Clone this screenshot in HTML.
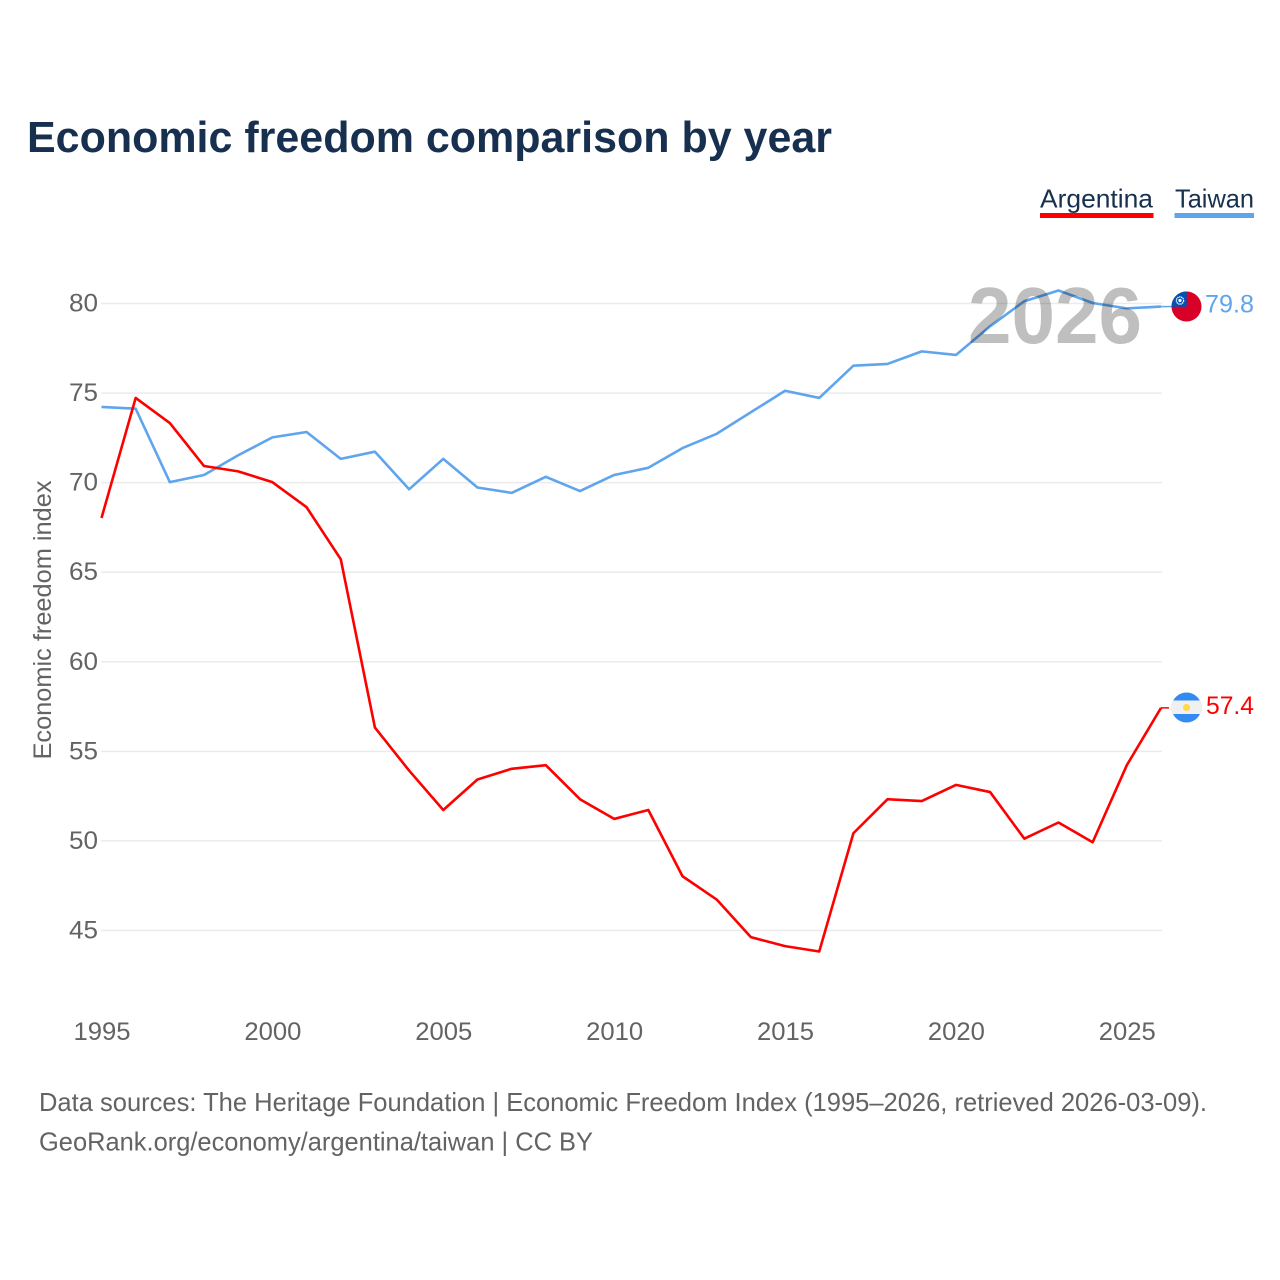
<!DOCTYPE html>
<html lang="en">
<head>
<meta charset="utf-8">
<title>Economic freedom comparison by year</title>
<style>
html,body{margin:0;padding:0;background:#fff;width:1280px;height:1280px;overflow:hidden}
svg{display:block}
text{font-family:"Liberation Sans",sans-serif}
</style>
</head>
<body>
<svg id="chart" width="1280" height="1280" viewBox="0 0 1280 1280" xmlns="http://www.w3.org/2000/svg">
  <defs>
    <clipPath id="clip-tw"><circle id="tw-clip-circle" cx="1186.5" cy="306.5" r="15"></circle></clipPath>
    <clipPath id="clip-ar"><circle id="ar-clip-circle" cx="1186.5" cy="707.5" r="15"></circle></clipPath>
  </defs>
  <rect width="1280" height="1280" fill="#fff"></rect>
  <text x="27" y="152" font-size="44" font-weight="700" fill="#18304f" textLength="805" lengthAdjust="spacingAndGlyphs">Economic freedom comparison by year</text>

  <g>
    <g>
      <text x="1040" y="207.5" font-size="26" fill="#18304f" textLength="113" lengthAdjust="spacingAndGlyphs">Argentina</text>
      <rect x="1040" y="213" width="113.5" height="5" fill="#ff0000"></rect>
    </g>
    <g>
      <text x="1175" y="207.5" font-size="26" fill="#18304f" textLength="79" lengthAdjust="spacingAndGlyphs">Taiwan</text>
      <rect x="1174.5" y="213" width="79.5" height="5" fill="#5fa5ee"></rect>
    </g>
  </g>

  <g id="grid"></g>
  <g id="y-ticks"></g>
  <g id="x-ticks"></g>
  <text transform="translate(51,620) rotate(-90)" text-anchor="middle" font-size="25" fill="#636363" textLength="279" lengthAdjust="spacingAndGlyphs">Economic freedom index</text>

  <g id="series" transform="translate(0,-0.5)"></g>

  <text x="968" y="343" font-size="80" font-weight="700" fill="#000" fill-opacity="0.25" textLength="174" lengthAdjust="spacingAndGlyphs">2026</text>

  <g id="flag-tw">
    <g clip-path="url(#clip-tw)">
      <rect x="1170" y="290" width="34" height="34" fill="#d80027"></rect>
      <rect x="1170" y="290" width="16.7" height="16.7" fill="#0052b4"></rect>
      <circle cx="1180" cy="300.5" r="3.6" fill="none" stroke="#fff" stroke-width="1.3" stroke-dasharray="1.4 0.6"></circle>
      <circle cx="1180" cy="300.5" r="1.6" fill="#fff"></circle>
    </g>
  </g>
  <g id="flag-ar">
    <g clip-path="url(#clip-ar)">
      <rect x="1170" y="690" width="34" height="34" fill="#338af3"></rect>
      <rect x="1170" y="700.5" width="34" height="13.5" fill="#f0f0f0"></rect>
      <circle cx="1186.5" cy="707.5" r="3.6" fill="#ffda44"></circle>
    </g>
  </g>
  <text id="end-tw" x="1254" y="312.5" text-anchor="end" font-size="25" fill="#5fa5ee" textLength="49" lengthAdjust="spacingAndGlyphs"></text>
  <text id="end-ar" x="1254" y="714" text-anchor="end" font-size="25" fill="#ff0000" textLength="48" lengthAdjust="spacingAndGlyphs"></text>

  <text x="39" y="1111" font-size="26" fill="#636363" textLength="1168" lengthAdjust="spacingAndGlyphs">Data sources: The Heritage Foundation | Economic Freedom Index (1995–2026, retrieved 2026-03-09).</text>
  <text x="39" y="1150.5" font-size="26" fill="#636363" textLength="554" lengthAdjust="spacingAndGlyphs">GeoRank.org/economy/argentina/taiwan | CC BY</text>
</svg>

<script>
const years = [1995,1996,1997,1998,1999,2000,2001,2002,2003,2004,2005,2006,2007,2008,2009,2010,2011,2012,2013,2014,2015,2016,2017,2018,2019,2020,2021,2022,2023,2024,2025,2026];
const argentinaValues = [68.0,74.7,73.3,70.9,70.6,70.0,68.6,65.7,56.3,53.9,51.7,53.4,54.0,54.2,52.3,51.2,51.7,48.0,46.7,44.6,44.1,43.8,50.4,52.3,52.2,53.1,52.7,50.1,51.0,49.9,54.2,57.4];
const taiwanValues = [74.2,74.1,70.0,70.4,71.5,72.5,72.8,71.3,71.7,69.6,71.3,69.7,69.4,70.3,69.5,70.4,70.8,71.9,72.7,73.9,75.1,74.7,76.5,76.6,77.3,77.1,78.7,80.1,80.7,80.0,79.7,79.8];
const yTickValues = [45,50,55,60,65,70,75,80];
const xTickValues = [1995,2000,2005,2010,2015,2020,2025];

const NS = 'http://www.w3.org/2000/svg';
function xScale(year) { return 101.5 + (year - 1995) * (1161 - 101.5) / 31; }
function yScale(value) { return 303.5 + (80 - value) * (930.5 - 303.5) / 35; }
function make(tag, attrs, parent) {
  const el = document.createElementNS(NS, tag);
  for (const k in attrs) el.setAttribute(k, attrs[k]);
  parent.appendChild(el);
  return el;
}

const gridGroup = document.getElementById('grid');
const yTickGroup = document.getElementById('y-ticks');
const xTickGroup = document.getElementById('x-ticks');
const seriesGroup = document.getElementById('series');

yTickValues.forEach(function (v) {
  const line = make('line', {x1: 101, x2: 1162, y1: yScale(v), y2: yScale(v), stroke: '#ebebeb', 'stroke-width': 1.5}, gridGroup);
  
  
  const label = make('text', {x: 98, y: yScale(v) + 8, 'text-anchor': 'end', 'font-size': 25, fill: '#636363', textLength: 29, lengthAdjust: 'spacingAndGlyphs'}, yTickGroup);
  
  
  label.textContent = String(v);
});

xTickValues.forEach(function (y) {
  const label = make('text', {x: xScale(y) + 0.5, y: 1040, 'text-anchor': 'middle', 'font-size': 25, fill: '#636363', textLength: 57, lengthAdjust: 'spacingAndGlyphs'}, xTickGroup);
  
  
  label.textContent = String(y);
});

function linePoints(values) {
  return values.map(function (v, i) { return xScale(years[i]).toFixed(2) + ',' + yScale(v).toFixed(2); }).join(' ');
}

const taiwanLine = make('polyline', {points: linePoints(taiwanValues), fill: 'none', stroke: '#5fa5ee', 'stroke-width': 2.6, 'stroke-linejoin': 'round'}, seriesGroup);



const argentinaLine = make('polyline', {points: linePoints(argentinaValues), fill: 'none', stroke: '#ff0000', 'stroke-width': 2.6, 'stroke-linejoin': 'round'}, seriesGroup);



const lastIndex = years.length - 1;
const lastYear = years[lastIndex];
const twLast = taiwanValues[lastIndex];
const arLast = argentinaValues[lastIndex];

const twConnector = make('line', {x1: xScale(lastYear), x2: 1173, y1: yScale(twLast), y2: yScale(twLast), stroke: '#5fa5ee', 'stroke-width': 1.5}, seriesGroup);



const arConnector = make('line', {x1: xScale(lastYear), x2: 1169, y1: yScale(arLast), y2: yScale(arLast), stroke: '#ff0000', 'stroke-width': 1.5}, seriesGroup);



document.getElementById('end-tw').textContent = twLast.toFixed(1);
document.getElementById('end-ar').textContent = arLast.toFixed(1);
</script>
</body>
</html>
